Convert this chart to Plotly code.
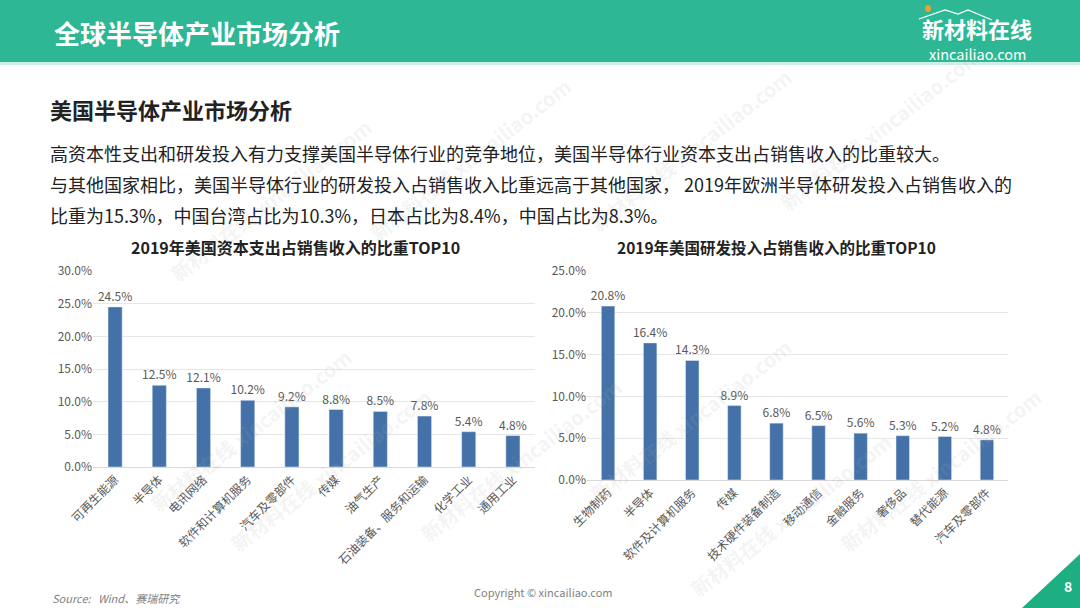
import plotly.graph_objects as go

# 左图：资本支出占销售收入比重
capex_cats = ["可再生能源", "半导体", "电讯网络", "软件和计算机服务", "汽车及零部件",
              "传媒", "油气生产", "石油装备、服务和运输", "化学工业", "通用工业"]
capex_vals = [0.245, 0.125, 0.121, 0.102, 0.092, 0.088, 0.085, 0.078, 0.054, 0.048]

# 右图：研发投入占销售收入比重
rd_cats = ["生物制药", "半导体", "软件及计算机服务", "传媒", "技术硬件装备制造",
           "移动通信", "金融服务", "奢侈品", "替代能源", "汽车及零部件"]
rd_vals = [0.208, 0.164, 0.143, 0.089, 0.068, 0.065, 0.056, 0.053, 0.052, 0.048]

W, H = 1080, 608
FONT = "Noto Sans CJK SC"
BAR = "#4472A8"
GRAY = "#595959"
GREEN = "#2DB794"


def px(x, y):
    return x / W, 1 - y / H


fig = go.Figure()

for cats, vals, xa, ya in [(capex_cats, capex_vals, "x", "y"), (rd_cats, rd_vals, "x2", "y2")]:
    fig.add_trace(go.Bar(x=cats, y=vals, marker_color=BAR,
                         texttemplate="%{y:.1%}", textposition="outside",
                         constraintext="none",
                         textfont=dict(size=12, color=GRAY, family=FONT), cliponaxis=False,
                         xaxis=xa, yaxis=ya))

axis_common = dict(tickfont=dict(size=12, color=GRAY, family=FONT), fixedrange=True,
                   automargin=False)

fig.update_layout(
    width=W, height=H, margin=dict(l=0, r=0, t=0, b=0, autoexpand=False),
    paper_bgcolor="white", plot_bgcolor="rgba(0,0,0,0)",
    showlegend=False, bargap=0.68,
    font=dict(family=FONT),
    xaxis=dict(domain=[93 / W, 535 / W], anchor="y", tickangle=-45, showgrid=False,
               showline=True, linecolor="#D9D9D9", ticks="", **axis_common),
    yaxis=dict(domain=[1 - 467 / H, 1 - 271 / H], anchor="x", range=[0, 0.30], dtick=0.05,
               tickformat=".1%", showgrid=True, gridcolor="#E6E6E6", zeroline=False,
               ticks="", **axis_common),
    xaxis2=dict(domain=[587 / W, 1008 / W], anchor="y2", tickangle=-45, showgrid=False,
                showline=True, linecolor="#D9D9D9", ticks="", **axis_common),
    yaxis2=dict(domain=[1 - 480 / H, 1 - 271 / H], anchor="x2", range=[0, 0.25], dtick=0.05,
                tickformat=".1%", showgrid=True, gridcolor="#E6E6E6", zeroline=False,
                ticks="", **axis_common),
)


def p(x, y):
    return f"{x / W} {1 - y / H}"


shapes = [
    dict(type="rect", xref="paper", yref="paper", x0=0, x1=1, y0=1 - 62 / H, y1=1,
         fillcolor=GREEN, line_width=0, layer="below"),
    dict(type="rect", xref="paper", yref="paper", x0=0, x1=1, y0=1 - 65 / H, y1=1 - 62 / H,
         fillcolor="#CFEFE6", line_width=0, layer="below"),
    dict(type="path", xref="paper", yref="paper",
         path=f"M {1022 / W} 0 L 1 0 L 1 {1 - 554 / H} Z",
         fillcolor="#1DAE82", line_width=0),
    # logo 屋顶线条
    dict(type="path", xref="paper", yref="paper",
         path=f"M {p(919, 19)} L {p(945, 10)} L {p(958, 14)} L {p(968, 10)} L {p(992, 20)}",
         line=dict(color="white", width=1.2)),
    dict(type="circle", xref="paper", yref="paper",
         x0=925 / W, x1=931 / W, y0=1 - 12 / H, y1=1 - 5 / H,
         fillcolor="#F39C33", line_width=0),
]

annotations = []


def note(text, x, y, size, color="#222222", bold=False, anchor="left", italic=False, angle=0):
    ax, ay = px(x, y)
    if bold:
        text = f"<b>{text}</b>"
    if italic:
        text = f"<i>{text}</i>"
    annotations.append(dict(text=text, x=ax, y=ay, xref="paper", yref="paper",
                            xanchor=anchor, yanchor="middle", showarrow=False,
                            textangle=angle,
                            font=dict(size=size, color=color, family=FONT)))


# 水印
for wx, wy in [(270, 200), (470, 160), (690, 150), (880, 130), (250, 430), (330, 470),
               (520, 460), (690, 420), (790, 515), (940, 470)]:
    note("新材料在线 xincailiao.com", wx, wy, 20, color="rgba(170,170,170,0.14)",
         bold=True, anchor="center", angle=-38)

note("全球半导体产业市场分析", 52, 33, 26, color="white", bold=True)
note("新材料在线", 977, 28, 22, color="white", bold=True, anchor="center")
note("xincailiao.com", 977, 53, 14.5, color="white", anchor="center")

note("美国半导体产业市场分析", 48, 109, 22, bold=True)
note("高资本性支出和研发投入有力支撑美国半导体行业的竞争地位，美国半导体行业资本支出占销售收入的比重较大。",
     48, 153, 18)
note("与其他国家相比，美国半导体行业的研发投入占销售收入比重远高于其他国家， 2019年欧洲半导体研发投入占销售收入的",
     48, 184, 18)
note("比重为15.3%，中国台湾占比为10.3%，日本占比为8.4%，中国占比为8.3%。", 48, 215, 18)

note("2019年美国资本支出占销售收入的比重TOP10", 295, 247, 16, bold=True, anchor="center")
note("2019年美国研发投入占销售收入的比重TOP10", 776, 247, 15.5, bold=True, anchor="center")

note("Source:   Wind、赛瑞研究", 50, 598, 11, color="#7F7F7F", italic=True)
note("Copyright © xincailiao.com", 543, 592, 11, color="#7F7F7F", anchor="center")
note("8", 1068, 586, 14, color="white", bold=True, anchor="center")

fig.update_layout(shapes=shapes, annotations=annotations)

fig.write_html("out.html", config={"displayModeBar": False},
               post_script="document.body.style.margin='0';")
